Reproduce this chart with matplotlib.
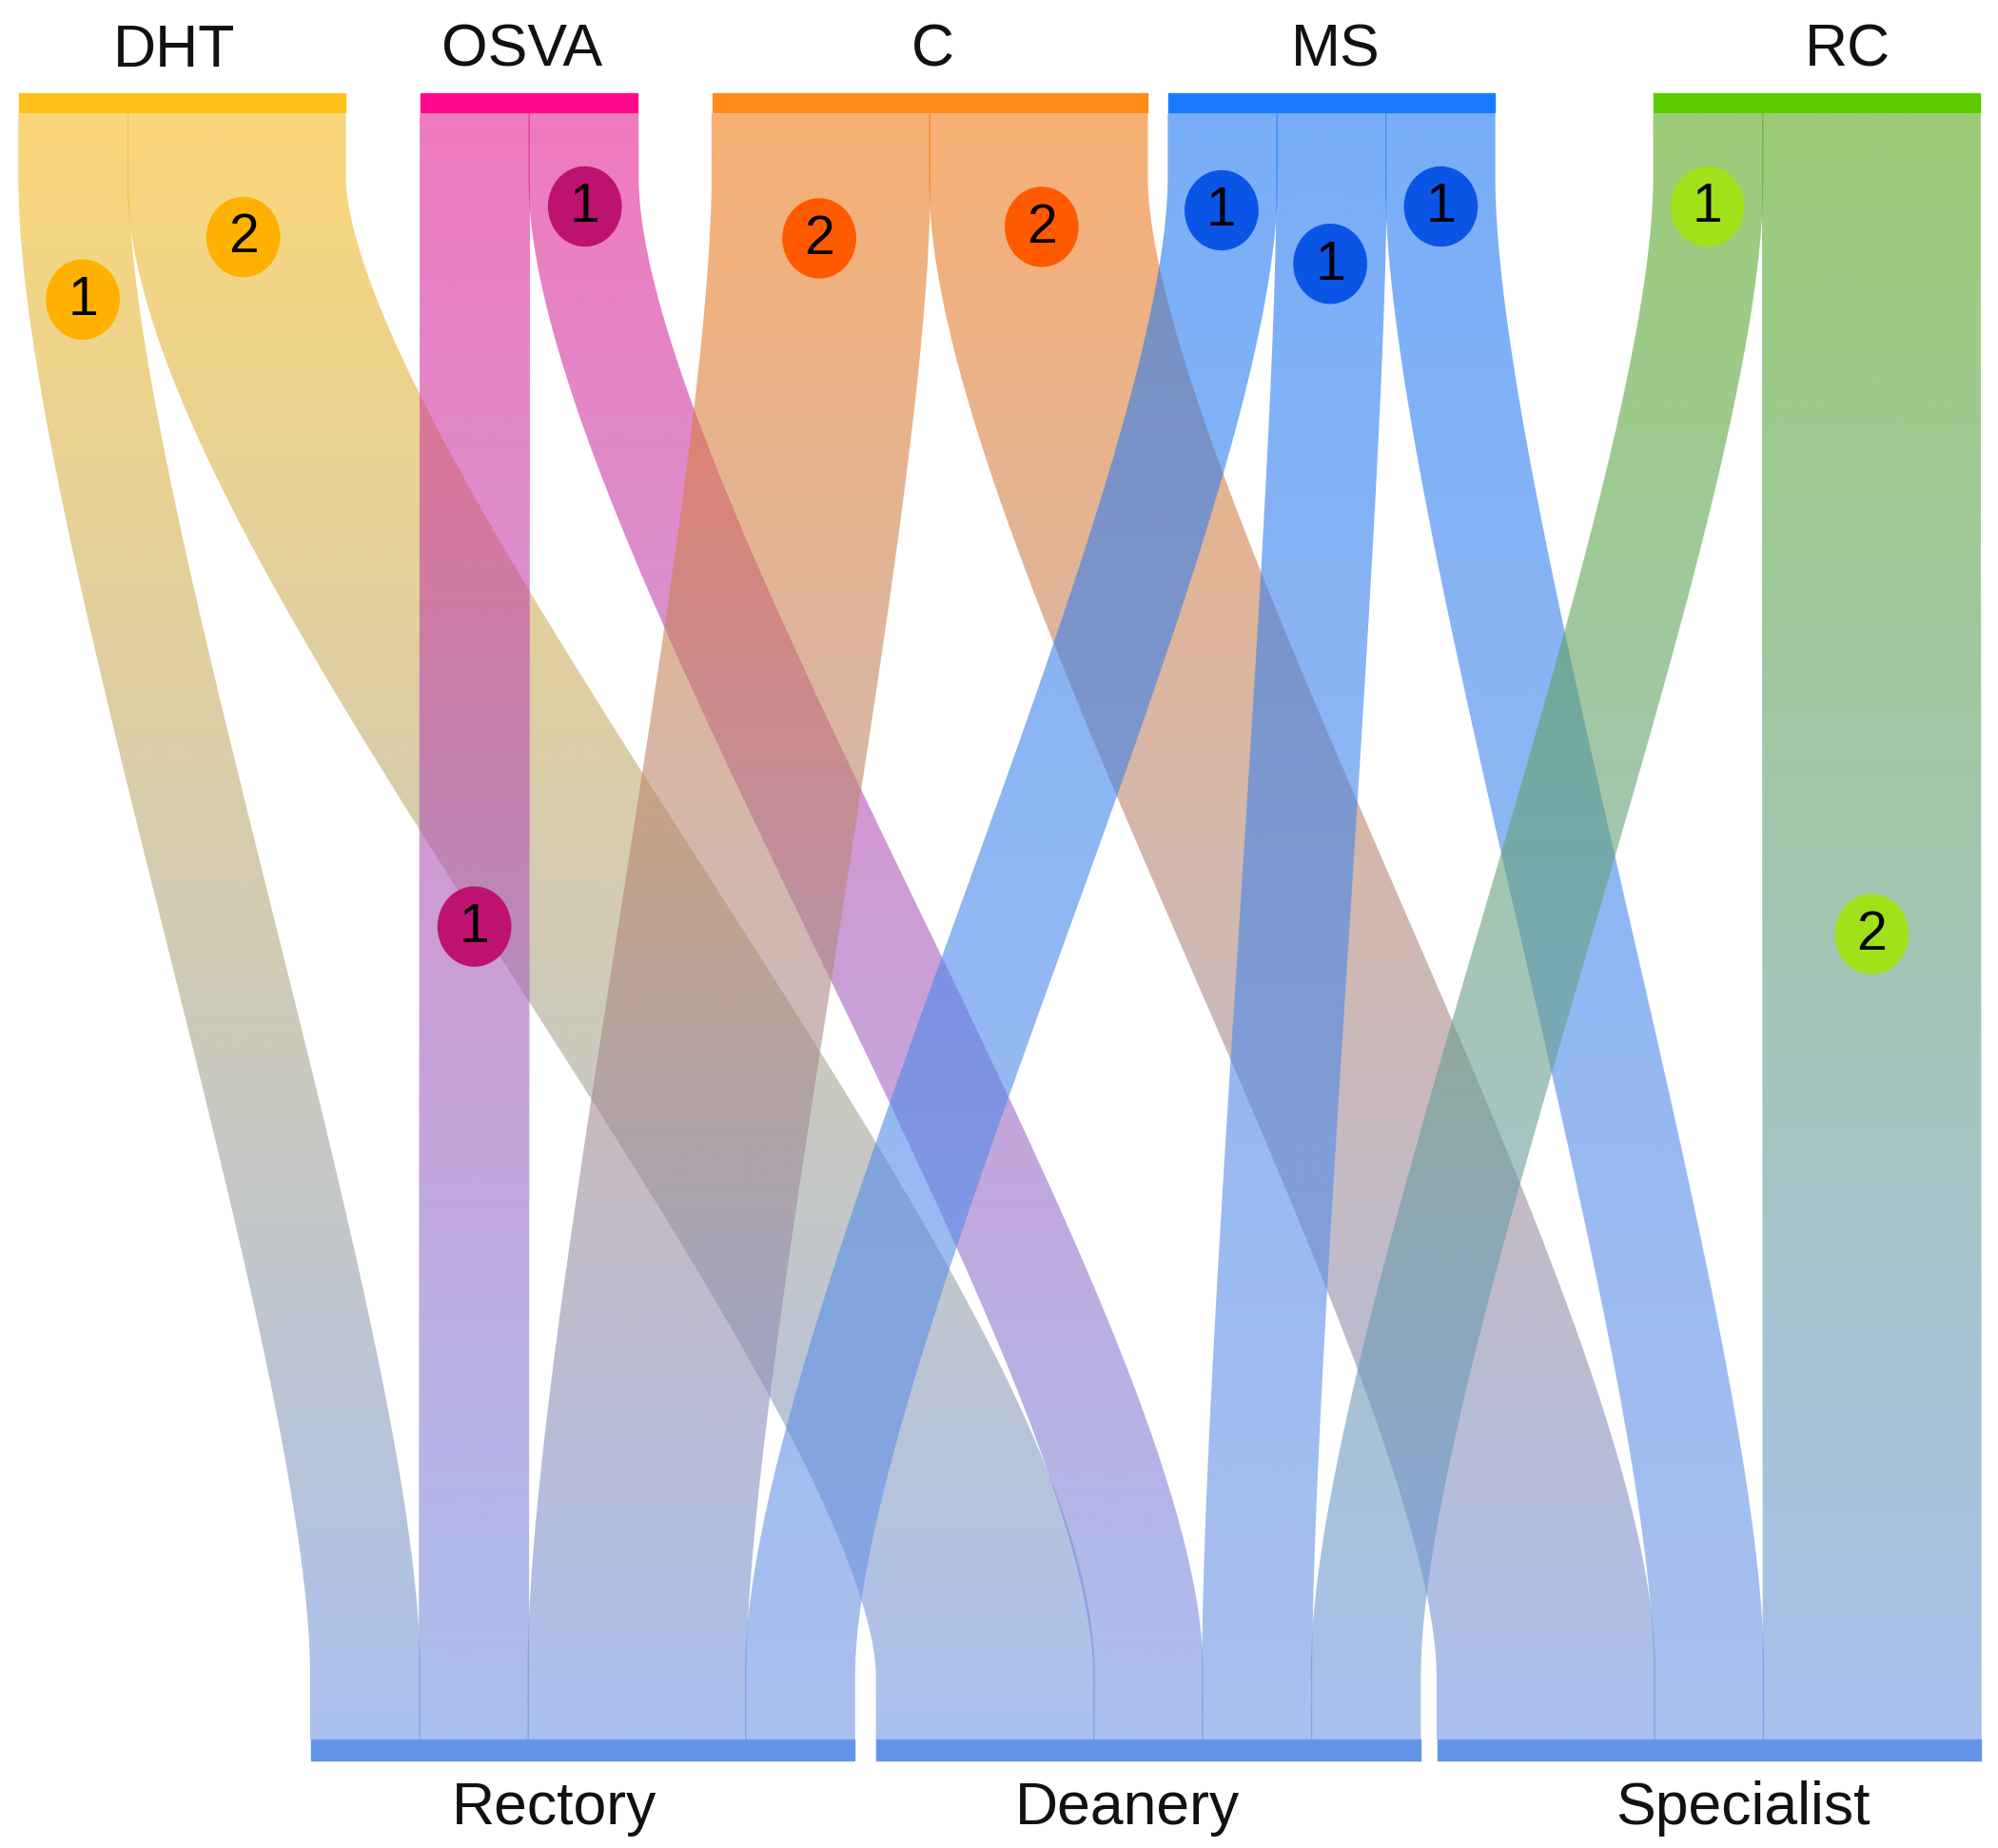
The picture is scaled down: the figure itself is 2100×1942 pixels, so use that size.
import numpy as np
import matplotlib.pyplot as plt
from matplotlib.path import Path
from matplotlib.patches import PathPatch, Ellipse, Rectangle
from matplotlib.colors import to_rgb

# data
sources = ['DHT', 'OSVA', 'C', 'MS', 'RC']
targets = ['Rectory', 'Deanery', 'Specialist']
flow_src = ['DHT', 'DHT', 'OSVA', 'OSVA', 'C', 'C', 'MS', 'MS', 'MS', 'RC', 'RC']
flow_dst = ['Rectory', 'Deanery', 'Rectory', 'Deanery', 'Rectory', 'Specialist',
            'Rectory', 'Deanery', 'Specialist', 'Deanery', 'Specialist']
flow_val = [1, 2, 1, 1, 2, 2, 1, 1, 1, 1, 2]

# layout, in pixels of a 1568 x 1450 canvas
W, H = 1568, 1450
UNIT = 85.3
Y_TOP, Y_BOT = 89, 1365
STRAIGHT = 50   # vertical run at each end of a link
CURV = 0.22     # bezier control offset, as a share of the curved height
src_x0 = [15, 330, 559, 917, 1298]
dst_x0 = [244, 688, 1128]
src_label_x = [137, 410, 732, 1048, 1450]
dst_label_x = [435, 885, 1368]
badge_y = [235, 186, 727, 162, 187, 178, 165, 207, 162, 162, 733]

# colours
src_bar_colors = ['#FFC21A', '#FF0A8C', '#FF8A1A', '#1A7AFF', '#5BCB00']
src_flow_colors = ['#F8BC21', '#E62193', '#F37B17', '#1E78F3', '#5AAA1E']
badge_colors = ['#FFB000', '#BE1270', '#FF5A00', '#0A55E6', '#A2E01A']
dst_bar_color = '#6494E8'
dst_flow_color = '#7196E3'
FLOW_ALPHA = 0.6

plt.rcParams['font.family'] = ['Liberation Sans', 'DejaVu Sans']

fig = plt.figure(figsize=(21, 19.42), dpi=100)
ax = fig.add_axes([0, 0, 1, 1])

# centre line of a link: short vertical runs joined by a cubic bezier,
# the link is a band of constant thickness around it (like a stroke)
t = np.linspace(0, 1, 400)
y_a, y_b = Y_TOP + STRAIGHT, Y_BOT - STRAIGHT
hgt = y_b - y_a
c = CURV
ys = y_a + hgt * (3 * (1 - t)**2 * t * c + 3 * (1 - t) * t**2 * (1 - c) + t**3)
dys = 3 * hgt * ((1 - t)**2 * c + 2 * (1 - t) * t * (1 - 2 * c) + t**2 * c)
ys = np.concatenate([[Y_TOP], ys, [Y_BOT]])
dys = np.concatenate([[1.0], dys, [1.0]])
ease = np.concatenate([[0.0], 3 * t**2 - 2 * t**3, [1.0]])
dease = np.concatenate([[0.0], 6 * t - 6 * t**2, [0.0]])

src_cursor = [0.0] * len(sources)
dst_cursor = [0.0] * len(targets)
for k in range(len(flow_val)):
    si = sources.index(flow_src[k])
    di = targets.index(flow_dst[k])
    w = flow_val[k] * UNIT
    c0 = src_x0[si] + src_cursor[si] + w / 2
    c1 = dst_x0[di] + dst_cursor[di] + w / 2
    src_cursor[si] += w
    dst_cursor[di] += w

    xc = c0 + (c1 - c0) * ease
    dxs = (c1 - c0) * dease
    norm = np.hypot(dxs, dys)
    nx, ny = dys / norm, -dxs / norm
    half = w / 2 + 0.6
    left = np.column_stack([xc - half * nx, ys - half * ny])
    right = np.column_stack([xc + half * nx, ys + half * ny])[::-1]
    verts = np.vstack([left, right, left[:1]])
    codes = [Path.MOVETO] + [Path.LINETO] * (len(verts) - 2) + [Path.CLOSEPOLY]
    patch = PathPatch(Path(verts, codes), facecolor='none', edgecolor='none')
    ax.add_patch(patch)

    ca = np.array(to_rgb(src_flow_colors[si]))
    cb = np.array(to_rgb(dst_flow_color))
    s = np.linspace(0, 1, 256)[:, None]
    grad = np.zeros((256, 1, 4))
    grad[:, 0, :3] = (1 - s) * ca + s * cb
    grad[:, 0, 3] = FLOW_ALPHA
    im = ax.imshow(grad, extent=(verts[:, 0].min(), verts[:, 0].max(), Y_BOT, Y_TOP),
                   origin='upper', aspect='auto', interpolation='bilinear')
    im.set_clip_path(patch)

    # numbered badge on the link centre line
    bx = np.interp(badge_y[k], ys, xc)
    ax.add_patch(Ellipse((bx, badge_y[k]), 57, 62, color=badge_colors[si], zorder=5))
    ax.text(bx, badge_y[k] + 1, str(flow_val[k]), ha='center', va='center',
            fontsize=41, color='black', zorder=6)

# node bars and names
for i, name in enumerate(sources):
    total = sum(v for s_, v in zip(flow_src, flow_val) if s_ == name)
    ax.add_patch(Rectangle((src_x0[i], 73), total * UNIT, 15,
                           color=src_bar_colors[i], zorder=4))
    ax.text(src_label_x[i], 52, name, ha='center', va='baseline',
            fontsize=45, color='#111111')

for j, name in enumerate(targets):
    total = sum(v for d_, v in zip(flow_dst, flow_val) if d_ == name)
    ax.add_patch(Rectangle((dst_x0[j], 1365), total * UNIT, 16,
                           color=dst_bar_color, zorder=4))
    ax.text(dst_label_x[j], 1431, name, ha='center', va='baseline',
            fontsize=45, color='#111111')

ax.set_xlim(0, W)
ax.set_ylim(H, 0)
ax.axis('off')

fig.savefig('out.png', dpi=100, facecolor='white')
